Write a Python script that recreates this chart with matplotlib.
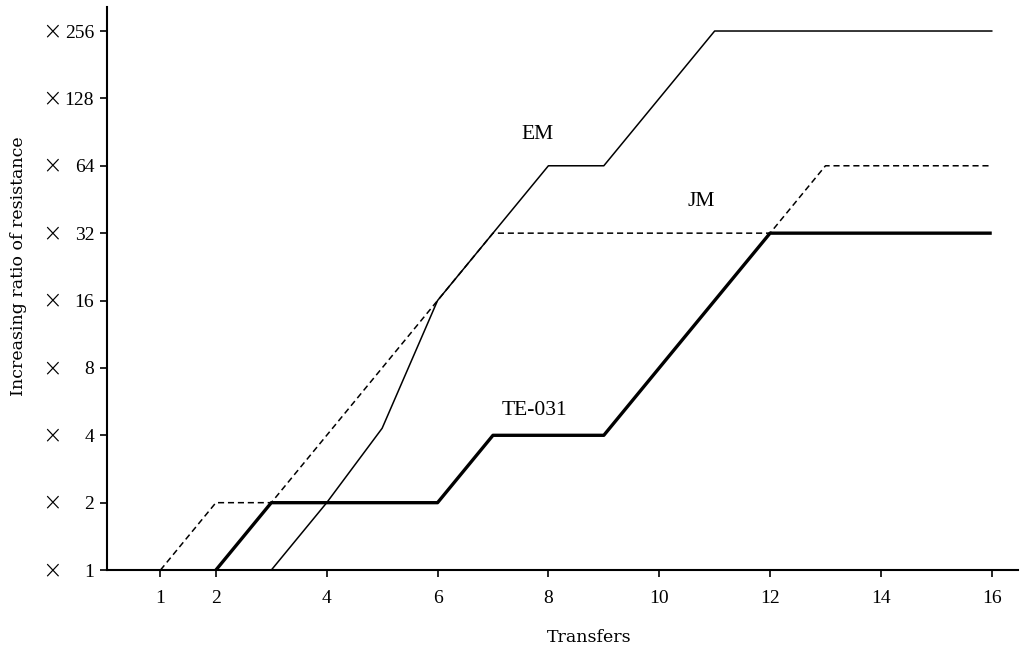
import matplotlib
matplotlib.use('Agg')
import matplotlib.pyplot as plt
import matplotlib.transforms as mtransforms

plt.rcParams['font.family'] = ['Liberation Serif', 'DejaVu Serif']

# Data (ratio of resistance vs transfer number)
em_x = [3, 4, 5, 6, 7, 8, 9, 11, 16]
em_y = [1, 2, 4.3, 16, 32, 64, 64, 256, 256]

jm_x = [1, 2, 3, 4, 5, 6, 7, 12, 13, 16]
jm_y = [1, 2, 2, 4, 8, 16, 32, 32, 64, 64]

te_x = [2, 3, 6, 7, 9, 12, 16]
te_y = [1, 2, 2, 4, 4, 32, 32]

x_ticks = [1, 2, 4, 6, 8, 10, 12, 14, 16]
y_ticks = [1, 2, 4, 8, 16, 32, 64, 128, 256]


def main():
    fig = plt.figure(figsize=(10.26, 6.56), dpi=100)
    ax = fig.add_axes([0.104, 0.131, 0.888, 0.858])

    ax.plot(em_x, em_y, color='black', linewidth=1.1)
    ax.plot(jm_x, jm_y, color='black', linewidth=1.1, linestyle=(0, (4, 2.5)))
    ax.plot(te_x, te_y, color='black', linewidth=2.4, solid_capstyle='butt')

    ax.set_yscale('log', base=2)
    ax.set_xlim(0.03, 16.47)
    ax.set_ylim(1, 327)

    ax.set_xticks(x_ticks)
    ax.set_xticklabels([str(v) for v in x_ticks], fontsize=14)
    ax.set_yticks(y_ticks)
    ax.set_yticklabels([str(v) for v in y_ticks], fontsize=14)
    ax.yaxis.set_minor_locator(plt.NullLocator())
    ax.tick_params(axis='both', direction='out', length=5, width=1.2)
    ax.tick_params(axis='x', pad=9)
    ax.tick_params(axis='y', pad=4)

    # the "×" prefix of each y tick label sits in its own column
    trans = mtransforms.blended_transform_factory(ax.transAxes, ax.transData)
    for v in y_ticks:
        ax.text(-0.060, v, '×', transform=trans, ha='center', va='center',
                fontsize=17, family='DejaVu Sans', fontweight='light')

    for side in ['top', 'right']:
        ax.spines[side].set_visible(False)
    for side in ['left', 'bottom']:
        ax.spines[side].set_linewidth(1.5)

    ax.text(7.8, 80, 'EM', fontsize=15.5, ha='center', va='bottom')
    ax.text(10.75, 40, 'JM', fontsize=15.5, ha='center', va='bottom')
    ax.text(7.75, 4.7, 'TE-031', fontsize=15.5, ha='center', va='bottom')

    ax.set_xlabel('Transfers', fontsize=12.5, family='DejaVu Serif')
    ax.xaxis.set_label_coords(0.53, -0.105)
    ax.set_ylabel('Increasing ratio of resistance', fontsize=12.5,
                  family='DejaVu Serif')
    ax.yaxis.set_label_coords(-0.088, 0.54)

    fig.savefig('out.png', dpi=100, facecolor='white')


if __name__ == '__main__':
    main()
